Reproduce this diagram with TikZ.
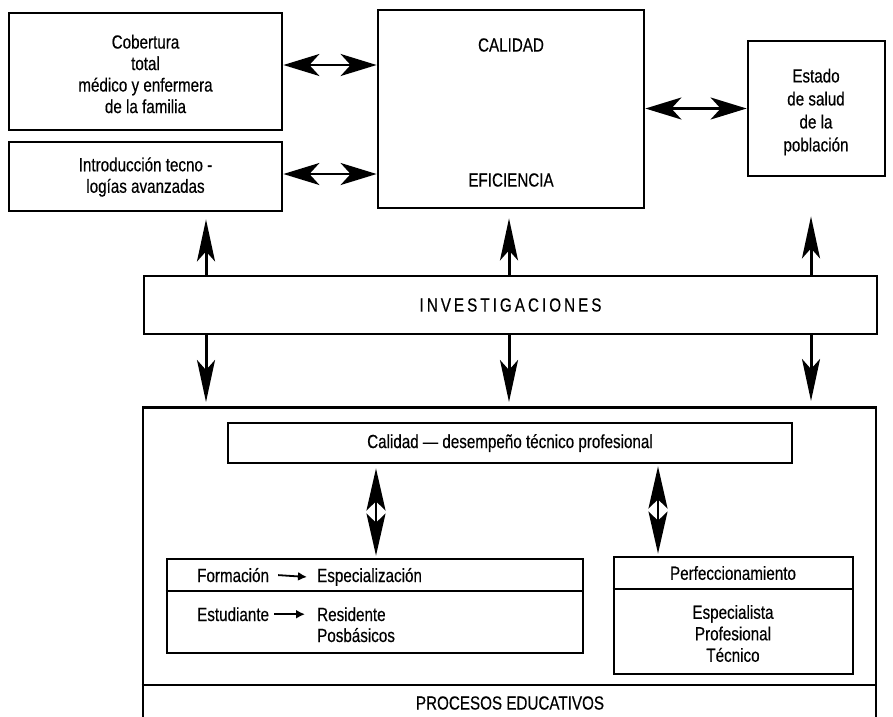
\documentclass[tikz,border=0pt]{standalone}
\usepackage{fontspec}
\setmainfont{Liberation Sans}[FakeStretch=0.8,FakeBold=0.35]
\usetikzlibrary{arrows.meta,calc}
\begin{document}
\begin{tikzpicture}[x=1pt,y=-1pt,
  box/.style={draw, line width=2.8pt, inner sep=0pt},
  txt/.style={font=\fontsize{19}{21.5}\selectfont, align=center, inner sep=0pt},
  txtw/.style={font=\fontsize{19}{23}\selectfont, align=center, inner sep=0pt},
  vup/.style={line width=3pt, -{Stealth[length=42pt,width=18pt,inset=10pt]}},
  hdbl/.style={line width=2.4pt, {Stealth[length=36pt,width=22pt,inset=10pt]}-{Stealth[length=36pt,width=22pt,inset=10pt]}},
  vdbl/.style={line width=2.4pt, {Stealth[length=42pt,width=19pt,inset=9pt]}-{Stealth[length=42pt,width=19pt,inset=9pt]}},
  small/.style={line width=1.8pt, -{Latex[length=9pt,width=9pt]}},
  divline/.style={line width=2.8pt}]
\useasboundingbox (0,0) rectangle (893,716);
\fill[white] (0,0) rectangle (893,716);

% top row
\node[box, minimum width=273pt, minimum height=117pt] (cob) at (145.5,71.5) {};
\node[txt] (cobt) at (145.5,74) {Cobertura\\total\\médico y enfermera\\de la familia};
\node[box, minimum width=273pt, minimum height=69pt] (intro) at (145.5,176.5) {};
\node[txt] (introt) at (145.5,177) {Introducción tecno -\\logías avanzadas};
\node[box, minimum width=266pt, minimum height=198pt] (cal) at (511,109) {};
\node[txt] (calt) at (511,45) {CALIDAD};
\node[txt] (efit) at (511,180) {EFICIENCIA};
\node[box, minimum width=137pt, minimum height=135pt] (est) at (816.5,108.5) {};
\node[txtw] (estt) at (816,112) {Estado\\de salud\\de la\\población};

% investigaciones
\node[box, minimum width=733pt, minimum height=58pt, txt] (inv) at (510.5,305) {\addfontfeature{LetterSpace=16}INVESTIGACIONES};

% lower big box
\node[box, minimum width=733pt, minimum height=360pt, anchor=north] (outer) at (509.5,406) {};
\coordinate (pl) at (0,685);
\draw[divline] (outer.west |- pl) -- (outer.east |- pl);
\node[txt] (proc) at (510,703) {PROCESOS EDUCATIVOS};

\node[box, minimum width=564pt, minimum height=40pt, txt] (calq) at (510,443) {Calidad — desempeño técnico profesional};

\node[box, minimum width=416pt, minimum height=94pt] (form) at (375,606) {};
\coordinate (fl) at (0,591);
\draw[divline] (form.west |- fl) -- (form.east |- fl);
\node[txt, anchor=base west] (forma) at (197,582) {Formación};
\node[txt, anchor=base west] (espe) at (317,582) {Especialización};
\node[txt, anchor=base west] (estu) at (197,621) {Estudiante};
\node[txt, anchor=base west] (resi) at (317,621) {Residente};
\node[txt, anchor=base west] (posb) at (317,642) {Posbásicos};
\draw[small] ([xshift=9pt]forma.east) -- ([xshift=-10pt]espe.west);
\draw[small] ([xshift=5pt]estu.east) -- ([xshift=-12pt]resi.west);

\node[box, minimum width=239pt, minimum height=117pt] (perf) at (733.5,615.5) {};
\coordinate (pfl) at (0,589);
\draw[divline] (perf.west |- pfl) -- (perf.east |- pfl);
\node[txt] (perft) at (733,573) {Perfeccionamiento};
\node[txt] (espl) at (733,633.5) {Especialista\\Profesional\\Técnico};

% horizontal arrows
\draw[hdbl] ([yshift=6.5pt]cob.east) -- ([yshift=6.5pt]cob.east -| cal.west);
\draw[hdbl] ([yshift=2.5pt]intro.east) -- ([yshift=2.5pt]intro.east -| cal.west);
\draw[hdbl] (cal.east |- est.west) -- (est.west);

% vertical arrows
\coordinate (xa) at (206,0);
\coordinate (xb) at (509,0);
\coordinate (xc) at (811,0);
\draw[vup] (inv.north -| xa) -- ($(intro.south -| xa)+(0,7)$);
\draw[vup] (inv.north -| xb) -- ($(cal.south -| xb)+(0,9)$);
\draw[vup] (inv.north -| xc) -- ($(est.south -| xc)+(0,39)$);
\draw[vup] (inv.south -| xa) -- ($(outer.north -| xa)+(0,-4)$);
\draw[vup] (inv.south -| xb) -- ($(outer.north -| xb)+(0,-4)$);
\draw[vup] (inv.south -| xc) -- ($(outer.north -| xc)+(0,-5)$);

\coordinate (xd) at (376,0);
\coordinate (xe) at (658,0);
\draw[vdbl] ($(calq.south -| xd)+(0,4)$) -- ($(form.north -| xd)+(0,-2)$);
\draw[vdbl] ($(calq.south -| xe)+(0,2)$) -- ($(perf.north -| xe)+(0,-2)$);
\end{tikzpicture}
\end{document}
